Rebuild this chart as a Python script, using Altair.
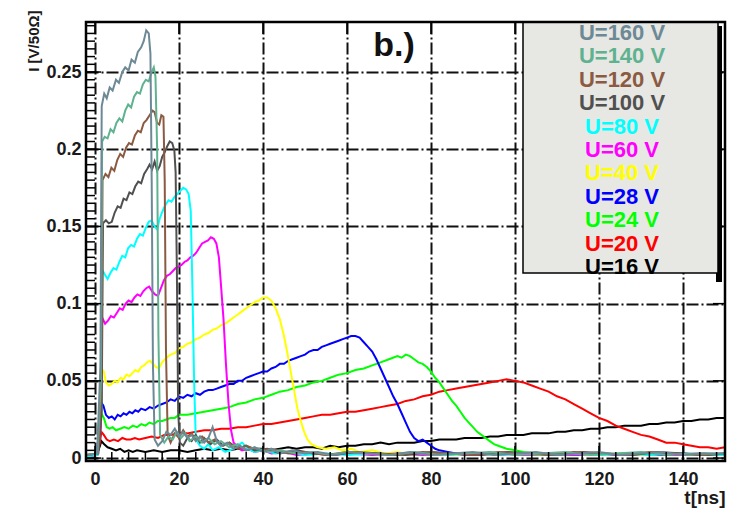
import altair as alt
import pandas as pd

# ---------------- data (t in ns, I in V/50 Ohm) ----------------
S160 = [(-2,0.002),(0.5,0.003),(1.3,0.06),(1.6,0.228),(2.2,0.236),(2.8,0.233),(3.5,0.240),(4.2,0.238),(5.0,0.245),
        (5.7,0.243),(6.5,0.250),(7.2,0.253),(8.0,0.251),(8.7,0.258),(9.5,0.256),(10.2,0.263),(11.0,0.266),(11.6,0.270),
        (12.2,0.277),(12.8,0.275),(13.2,0.262),(13.5,0.18),(13.8,0.06),(14.2,0.012),(15.0,0.008),(16.0,0.011),(17.0,0.017),
        (18.0,0.015),(19.0,0.019),(20.0,0.014),(21,0.017),(22,0.013),(23,0.015),(24,0.011),(25,0.014),(26,0.010),(27,0.013),
        (28,0.020),(29,0.011),(30,0.008),(31.5,0.010),(33,0.006),(34.5,0.008),(36,0.005),(38,0.007),(40,0.004),(42,0.006),
        (44,0.003),(47,0.005),(50,0.003),(53,0.004),(57,0.002),(61,0.004),(65,0.003),(70,0.002),(75,0.004),(80,0.002),
        (85,0.003),(90,0.004),(95,0.002),(100,0.003),(105,0.004),(110,0.002),(115,0.003),(120,0.004),(125,0.002),
        (130,0.003),(135,0.004),(140,0.002),(145,0.003),(150,0.003)]
S140 = [(-2,0.002),(0.6,0.003),(1.4,0.05),(1.7,0.205),(2.3,0.208),(3.0,0.207),(3.7,0.213),(4.4,0.211),(5.1,0.217),
        (5.8,0.220),(6.5,0.218),(7.2,0.225),(7.9,0.229),(8.6,0.227),(9.3,0.234),(10.0,0.237),(10.7,0.236),(11.4,0.242),
        (12.1,0.245),(12.8,0.244),(13.5,0.250),(14.0,0.253),(14.4,0.247),(14.8,0.20),(15.1,0.08),(15.5,0.015),(16.5,0.010),
        (17.5,0.014),(18.5,0.012),(19.5,0.017),(20.5,0.013),(21.5,0.016),(22.5,0.011),(24,0.014),(25.5,0.010),(27,0.013),
        (28.5,0.009),(30,0.011),(32,0.007),(34,0.009),(36,0.005),(38,0.007),(41,0.004),(44,0.005),(48,0.003),(52,0.004),
        (56,0.002),(60,0.004),(65,0.003),(70,0.002),(76,0.004),(82,0.002),(88,0.003),(94,0.004),(100,0.002),(106,0.003),
        (112,0.004),(118,0.002),(124,0.003),(130,0.004),(136,0.002),(142,0.003),(150,0.003)]
S120 = [(-2,0.002),(0.7,0.003),(1.5,0.04),(1.8,0.180),(2.5,0.184),(3.2,0.182),(3.9,0.188),(4.6,0.186),(5.3,0.193),
        (6.0,0.197),(6.7,0.195),(7.4,0.201),(8.1,0.204),(8.8,0.203),(9.5,0.209),(10.2,0.212),(10.9,0.211),(11.6,0.217),
        (12.3,0.219),(13.0,0.222),(13.7,0.225),(14.2,0.224),(14.8,0.217),(15.3,0.216),(15.8,0.222),(16.3,0.221),
        (16.6,0.18),(16.9,0.07),(17.3,0.015),(18,0.010),(19,0.016),(20,0.013),(21,0.018),(22,0.014),(23,0.016),(24,0.012),
        (25.5,0.014),(27,0.010),(28.5,0.012),(30,0.008),(32,0.010),(34,0.006),(36,0.008),(39,0.005),(42,0.006),(46,0.003),
        (50,0.004),(55,0.002),(60,0.004),(66,0.003),(72,0.002),(78,0.004),(84,0.003),(90,0.002),(96,0.004),(102,0.003),
        (108,0.002),(114,0.004),(120,0.003),(126,0.002),(132,0.004),(138,0.003),(144,0.002),(150,0.003)]
S100 = [(-2,0.002),(0.8,0.003),(1.6,0.03),(1.9,0.152),(2.6,0.154),(3.3,0.152),(4.0,0.153),(4.7,0.159),(5.4,0.163),
        (6.1,0.162),(6.8,0.168),(7.5,0.167),(8.2,0.172),(8.9,0.171),(9.6,0.176),(10.3,0.179),(11.0,0.178),(11.7,0.184),
        (12.4,0.187),(13.0,0.190),(13.6,0.187),(14.2,0.192),(14.8,0.186),(15.4,0.189),(16.0,0.195),(16.6,0.198),
        (17.2,0.202),(17.8,0.205),(18.4,0.204),(18.9,0.199),(19.2,0.185),(19.5,0.12),(19.8,0.03),(20.2,0.010),(21,0.008),
        (22,0.013),(23,0.011),(24,0.015),(25,0.010),(26,0.013),(27.5,0.009),(29,0.012),(30.5,0.008),(32,0.010),(34,0.006),
        (36,0.008),(38,0.005),(41,0.006),(44,0.003),(48,0.005),(52,0.003),(57,0.002),(62,0.004),(68,0.003),(74,0.002),
        (80,0.004),(86,0.003),(92,0.002),(98,0.004),(104,0.003),(110,0.002),(116,0.004),(122,0.003),(128,0.002),
        (134,0.004),(140,0.003),(146,0.002),(150,0.003)]
S80 = [(-2,0.001),(0.6,0.002),(1.5,0.03),(1.7,0.122),(2.3,0.119),(3.0,0.116),(3.7,0.120),(4.4,0.123),(5.1,0.122),
       (5.8,0.127),(6.5,0.131),(7.2,0.130),(7.9,0.136),(8.6,0.138),(9.3,0.137),(10.0,0.142),(10.7,0.145),(11.4,0.144),
       (12.1,0.149),(12.8,0.153),(13.5,0.154),(14.2,0.150),(14.8,0.148),(15.4,0.155),(16.1,0.160),(16.8,0.164),
       (17.5,0.167),(18.2,0.166),(18.9,0.169),(19.6,0.171),(20.3,0.173),(21.0,0.175),(21.7,0.174),(22.3,0.171),
       (22.8,0.160),(23.2,0.11),(23.6,0.05),(24.0,0.012),(25,0.008),(26,0.006),(27,0.009),(28,0.005),(29.5,0.007),
       (31,0.004),(33,0.006),(35,0.010),(36.5,0.006),(38,0.004),(40,0.005),(43,0.003),(46,0.004),(50,0.002),(55,0.003),
       (60,0.002),(66,0.003),(72,0.002),(78,0.003),(84,0.002),(90,0.003),(96,0.002),(102,0.003),(108,0.002),(114,0.003),
       (120,0.002),(126,0.003),(132,0.002),(138,0.003),(144,0.002),(150,0.002)]
S60 = [(-2,0.001),(0.6,0.002),(1.4,0.02),(1.7,0.091),(2.4,0.087),(3.1,0.089),(3.8,0.092),(4.5,0.091),(5.2,0.094),
       (5.9,0.097),(6.6,0.096),(7.3,0.100),(8.0,0.102),(8.7,0.101),(9.4,0.104),(10.1,0.106),(10.8,0.105),(11.5,0.108),
       (12.2,0.110),(12.9,0.111),(13.6,0.108),(14.3,0.106),(15.0,0.105),(15.7,0.110),(16.4,0.115),(17.1,0.118),
       (17.8,0.119),(18.5,0.121),(19.2,0.123),(19.9,0.124),(20.6,0.125),(21.3,0.127),(22.0,0.128),(22.7,0.130),
       (23.4,0.131),(24.1,0.133),(24.8,0.136),(25.5,0.139),(26.2,0.140),(26.9,0.141),(27.6,0.143),(28.3,0.142),
       (28.9,0.139),(29.5,0.130),(30.0,0.112),(30.6,0.090),(31.2,0.060),(31.8,0.035),(32.4,0.018),(33,0.010),(34,0.007),
       (35,0.005),(36.5,0.006),(38,0.004),(40,0.005),(42,0.003),(45,0.004),(48,0.002),(52,0.003),(56,0.002),(60,0.003),
       (66,0.002),(72,0.003),(78,0.002),(84,0.003),(90,0.002),(96,0.003),(102,0.002),(108,0.003),(114,0.002),
       (120,0.003),(126,0.002),(132,0.003),(138,0.002),(144,0.003),(150,0.002)]
S40 = [(-2,0.001),(0.5,0.002),(1.3,0.02),(1.6,0.058),(2.1,0.056),(2.6,0.049),(3.3,0.047),(4.0,0.048),(4.7,0.050),
       (5.4,0.049),(6.1,0.052),(6.8,0.051),(7.5,0.054),(8.2,0.053),(8.9,0.055),(9.6,0.057),(10.3,0.056),(11,0.059),
       (11.7,0.060),(12.4,0.062),(13.1,0.063),(13.8,0.061),(14.5,0.059),(15.2,0.058),(16,0.062),(17,0.065),(18,0.067),
       (19,0.068),(20,0.071),(21,0.072),(22,0.074),(23,0.075),(24,0.077),(25,0.078),(26,0.080),(27,0.081),(28,0.083),
       (29,0.084),(30,0.086),(31,0.087),(32,0.089),(33,0.091),(34,0.093),(35,0.095),(36,0.097),(37,0.099),(38,0.101),
       (39,0.102),(40,0.104),(41,0.104),(42,0.102),(43,0.097),(44,0.090),(45,0.079),(45.8,0.068),(46.6,0.056),
       (47.4,0.044),(48.2,0.032),(49,0.024),(49.8,0.017),(50.6,0.012),(51.5,0.009),(53,0.007),(55,0.006),(57,0.007),
       (59,0.005),(61,0.006),(63,0.004),(66,0.005),(69,0.003),(72,0.004),(76,0.002),(80,0.003),(85,0.002),(90,0.003),
       (95,0.002),(100,0.003),(106,0.002),(112,0.003),(118,0.002),(124,0.003),(130,0.002),(136,0.003),(142,0.002),
       (150,0.003)]
S28 = [(-2,0.001),(0.4,0.002),(1.2,0.02),(1.5,0.036),(2.0,0.034),(2.6,0.028),(3.3,0.026),(4.0,0.027),(4.7,0.025),
       (5.4,0.028),(6.1,0.027),(6.8,0.029),(7.5,0.028),(8.2,0.030),(8.9,0.029),(9.6,0.031),(10.3,0.030),(11,0.032),
       (12,0.031),(13,0.033),(14,0.032),(15,0.034),(16,0.035),(17,0.036),(18,0.038),(19,0.037),(20,0.040),(21,0.039),
       (22,0.041),(23,0.040),(24,0.042),(25,0.041),(26,0.043),(27,0.044),(28,0.044),(29,0.045),(30,0.046),(31,0.047),
       (32,0.048),(33,0.048),(34,0.050),(35,0.050),(36,0.052),(37,0.053),(38,0.054),(39,0.055),(40,0.056),(41,0.056),
       (42,0.058),(43,0.059),(44,0.061),(45,0.061),(46,0.063),(47,0.064),(48,0.065),(49,0.066),(50,0.067),(51,0.069),
       (52,0.070),(53,0.070),(54,0.072),(55,0.073),(56,0.074),(57,0.075),(58,0.076),(59,0.077),(60,0.078),(61,0.079),
       (62,0.079),(63,0.078),(64,0.075),(65,0.072),(66,0.069),(67,0.064),(68,0.058),(69,0.052),(70,0.046),(71,0.040),
       (72,0.035),(73,0.029),(74,0.023),(75,0.017),(76,0.013),(77,0.011),(78,0.012),(79,0.010),(80,0.008),(81,0.006),
       (82,0.005),(84,0.004),(86,0.003),(88,0.002),(92,0.003),(96,0.002),(100,0.003),(105,0.002),(110,0.003),
       (115,0.002),(120,0.003),(125,0.002),(130,0.003),(135,0.002),(140,0.003),(145,0.002),(150,0.003)]
S24 = [(-2,0.001),(0.4,0.002),(1.2,0.015),(1.5,0.029),(2.1,0.026),(2.8,0.020),(3.5,0.019),(4.2,0.020),(5,0.018),
       (6,0.019),(7,0.020),(8,0.019),(9,0.021),(10,0.020),(11,0.022),(12,0.021),(13,0.023),(14,0.022),(15,0.024),
       (16,0.024),(17,0.025),(18,0.026),(19,0.026),(20,0.028),(22,0.028),(24,0.029),(26,0.030),(28,0.031),(30,0.032),
       (32,0.033),(34,0.035),(36,0.036),(38,0.038),(40,0.039),(42,0.041),(44,0.043),(46,0.044),(48,0.046),(50,0.047),
       (52,0.049),(54,0.050),(56,0.052),(58,0.054),(60,0.055),(62,0.057),(64,0.058),(66,0.060),(68,0.062),(70,0.064),
       (72,0.066),(73,0.065),(74,0.067),(75,0.066),(76,0.064),(77,0.062),(78,0.061),(79,0.059),(80,0.056),(81,0.052),
       (82,0.049),(83,0.045),(84,0.041),(85,0.037),(86,0.034),(87,0.030),(88,0.026),(89,0.023),(90,0.020),(91,0.017),
       (92,0.015),(93,0.013),(94,0.011),(95,0.009),(96,0.008),(98,0.006),(100,0.005),(102,0.004),(105,0.003),
       (110,0.002),(115,0.003),(120,0.002),(125,0.003),(130,0.002),(135,0.003),(140,0.002),(145,0.003),(150,0.002)]
S20 = [(-2,0.001),(0.4,0.002),(1.2,0.010),(1.5,0.017),(2.1,0.015),(2.8,0.012),(3.5,0.011),(4.5,0.012),(5.5,0.011),
       (6.5,0.013),(7.5,0.012),(8.5,0.012),(9.5,0.013),(10.5,0.012),(12,0.013),(13.5,0.014),(15,0.013),(16.5,0.015),
       (18,0.015),(20,0.016),(22,0.016),(24,0.017),(26,0.018),(28,0.018),(30,0.019),(32,0.019),(34,0.020),(36,0.020),
       (38,0.021),(40,0.022),(42,0.022),(44,0.023),(46,0.024),(48,0.025),(50,0.026),(52,0.027),(54,0.028),(56,0.028),
       (58,0.029),(60,0.030),(62,0.030),(64,0.031),(66,0.032),(68,0.033),(70,0.034),(72,0.035),(74,0.037),(76,0.038),
       (78,0.040),(80,0.041),(82,0.043),(84,0.044),(86,0.045),(88,0.046),(90,0.047),(92,0.048),(94,0.049),(96,0.050),
       (98,0.051),(100,0.050),(102,0.049),(104,0.047),(106,0.045),(108,0.043),(110,0.040),(112,0.038),(114,0.035),
       (116,0.032),(118,0.029),(120,0.026),(122,0.024),(124,0.021),(126,0.019),(128,0.017),(130,0.015),(132,0.014),
       (134,0.012),(136,0.010),(138,0.010),(140,0.009),(142,0.008),(144,0.007),(146,0.007),(148,0.006),(150,0.007)]
S16 = [(-2,0.001),(0.4,0.002),(1.2,0.008),(1.5,0.011),(2.2,0.009),(3,0.007),(4,0.006),(5,0.005),(6,0.006),(7,0.004),
       (8,0.005),(9,0.004),(10,0.005),(12,0.004),(14,0.005),(16,0.004),(18,0.005),(20,0.005),(22,0.004),(24,0.005),
       (26,0.006),(28,0.005),(30,0.006),(32,0.005),(34,0.006),(36,0.005),(38,0.006),(40,0.006),(42,0.005),(44,0.006),
       (46,0.007),(48,0.006),(50,0.007),(52,0.007),(54,0.006),(56,0.008),(58,0.007),(60,0.008),(62,0.008),(64,0.009),
       (66,0.009),(68,0.010),(70,0.009),(72,0.010),(74,0.010),(76,0.010),(78,0.011),(80,0.011),(82,0.012),(84,0.012),
       (86,0.012),(88,0.013),(90,0.013),(92,0.013),(94,0.014),(96,0.014),(98,0.015),(100,0.015),(102,0.015),(104,0.016),
       (106,0.016),(108,0.016),(110,0.017),(112,0.017),(114,0.018),(116,0.018),(118,0.019),(120,0.019),(122,0.020),
       (124,0.020),(126,0.021),(128,0.021),(130,0.021),(132,0.022),(134,0.022),(136,0.023),(138,0.023),(140,0.024),
       (142,0.024),(144,0.025),(146,0.025),(148,0.026),(150,0.026)]

LABELS = ["U=160 V", "U=140 V", "U=120 V", "U=100 V", "U=80 V", "U=60 V",
          "U=40 V", "U=28 V", "U=24 V", "U=20 V", "U=16 V"]
COLORS = ["#6d8996", "#5fb290", "#8b5a42", "#505050", "#00ffff", "#ff00ff",
          "#ffff00", "#0000ff", "#00ff00", "#ff0000", "#000000"]
SERIES = [S160, S140, S120, S100, S80, S60, S40, S28, S24, S20, S16]

X_TICKS = [0, 20, 40, 60, 80, 100, 120, 140]
X_MINOR = [4 * i for i in range(38)]
Y_TICKS = [0, 0.05, 0.1, 0.15, 0.2, 0.25]
Y_MINOR = [round(0.005 * i, 3) for i in range(57)]
TITLE_TEXT = "b.)"

# ---------------- layout ----------------
W, H = 639, 439
FONT = "Liberation Sans"
xs = alt.Scale(domain=[-2.14, 150], nice=False, zero=False)
ys = alt.Scale(domain=[-0.0019, 0.2824], nice=False, zero=False)
one = pd.DataFrame({"a": [0]})

x_axis = alt.Axis(values=X_TICKS, format="~r", grid=True, gridColor="#111111", gridWidth=2,
                  gridDash=[12, 3, 2, 3], ticks=False, domain=False, labelFont=FONT,
                  labelFontSize=18, labelFontWeight="bold", labelColor="#1a1a1a", labelPadding=9,
                  title="t[ns]", titleFont=FONT, titleFontSize=19, titleFontWeight="bold",
                  titleColor="#1a1a1a", titleX=W, titleY=36, titleAlign="right",
                  titleBaseline="middle", labelFlush=False)
y_axis = alt.Axis(values=Y_TICKS, format="~r", grid=True, gridColor="#111111", gridWidth=2,
                  gridDash=[12, 3, 2, 3], ticks=False, domain=False, labelFont=FONT,
                  labelFontSize=18, labelFontWeight="bold", labelColor="#1a1a1a", labelPadding=5,
                  title="I [V/50Ω]", titleFont=FONT, titleFontSize=15, titleFontWeight="bold",
                  titleColor="#1a1a1a", titleAngle=-90, titleAlign="right", titleBaseline="middle",
                  titleX=-53, titleY=-12, labelFlush=False)

X = alt.X("t:Q", scale=xs, axis=x_axis)
Y = alt.Y("v:Q", scale=ys, axis=y_axis)

layers = []
# draw order: low voltages first, highest voltage on top
for idx in reversed(range(len(SERIES))):
    df = pd.DataFrame(SERIES[idx], columns=["t", "v"])
    layers.append(
        alt.Chart(df).mark_line(strokeWidth=2, clip=True, color=COLORS[idx]).encode(
            x=X, y=Y, order="t:Q")
    )

def yticks(vals, x0, x1):
    return alt.Chart(pd.DataFrame({"v": vals})).mark_rule(color="black", strokeWidth=1.5).encode(
        y=Y, x=alt.value(x0), x2=alt.value(x1))

def xticks(vals, y0, y1):
    return alt.Chart(pd.DataFrame({"t": vals})).mark_rule(color="black", strokeWidth=1.5).encode(
        x=X, y=alt.value(y0), y2=alt.value(y1))

layers += [
    yticks(Y_MINOR, 0, 9), yticks(Y_TICKS, 0, 15),
    yticks(Y_TICKS, W, W - 12),
    xticks(X_MINOR, H, H - 9), xticks(X_TICKS, H, H - 15),
    xticks(X_TICKS, 0, 12),
]

# legend box with its shadow
layers.append(alt.Chart(one).mark_rect(color="black").encode(
    x=alt.value(630), x2=alt.value(636), y=alt.value(4), y2=alt.value(260)))
layers.append(alt.Chart(one).mark_rect(fill="#e7e7e3", stroke="black", strokeWidth=1.5).encode(
    x=alt.value(437), x2=alt.value(632), y=alt.value(0), y2=alt.value(251)))
for i, (lab, col) in enumerate(zip(LABELS, COLORS)):
    layers.append(alt.Chart(pd.DataFrame({"label": [lab]})).mark_text(
        font=FONT, fontSize=22, fontWeight="bold", align="center", baseline="middle",
        color=col).encode(x=alt.value(536), y=alt.value(11 + i * 23.4), text="label:N"))

# panel label
layers.append(alt.Chart(pd.DataFrame({"s": [TITLE_TEXT]})).mark_text(
    font=FONT, fontSize=34, fontWeight="bold", color="#111111", align="center",
    baseline="middle").encode(x=alt.value(308), y=alt.value(24), text="s:N"))

# frame
layers.append(alt.Chart(one).mark_rect(fillOpacity=0, stroke="black", strokeWidth=2.5).encode(
    x=alt.value(0), x2=alt.value(W), y=alt.value(0), y2=alt.value(H)))

chart = alt.layer(*layers).properties(
    width=W, height=H, autosize=alt.AutoSizeParams(type="none"),
    padding={"left": 86, "top": 22, "right": 12, "bottom": 49},
    background="white",
).configure_view(strokeOpacity=0)

chart.save("out.html", embed_options={"renderer": "svg", "actions": False})
